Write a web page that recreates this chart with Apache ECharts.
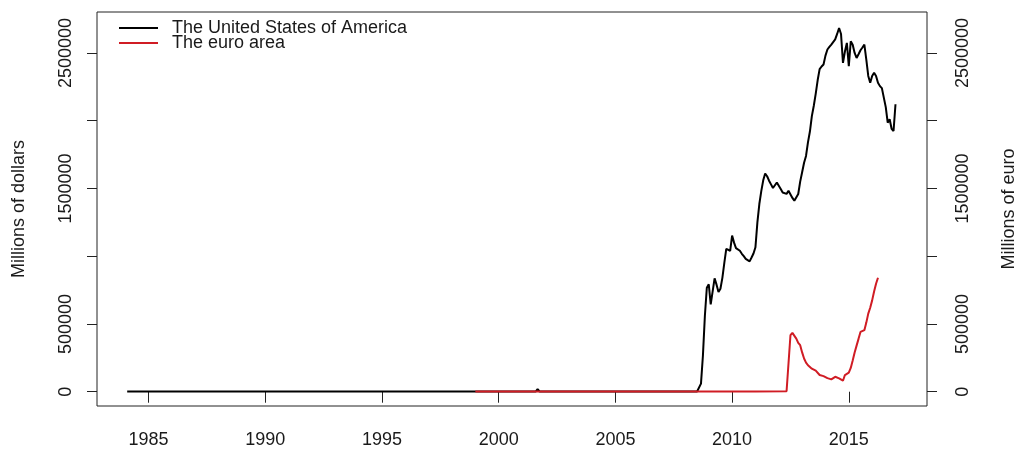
<!DOCTYPE html>
<html>
<head>
<meta charset="utf-8">
<script src="https://cdn.jsdelivr.net/npm/echarts@6/dist/echarts.min.js"></script>
<style>
  html, body { margin: 0; padding: 0; background: #fff; }
  #chart { width: 1018px; height: 450px; }
</style>
</head>
<body>
<div id="chart"></div>
<script>
// Excess reserves, millions of national currency.
// United States: sparse readings while the series is flat, then monthly from Aug 2008.
const usEarlyMonths = ['1984-02', '1986-01', '1988-01', '1990-01', '1992-01', '1994-01', '1996-01',
  '1998-01', '2000-01', '2001-08', '2001-09', '2001-10', '2003-01', '2005-01', '2007-01', '2008-07'];
const usEarlyValues = [900, 1000, 1000, 900, 1100, 1000, 1000, 1200, 1100, 1300, 19000, 1500, 1600, 1700, 1700, 1900];
const usMonthlyStart = '2008-08';
const usMonthly = [
  2000, 60000, 267000, 559000, 767000,
  793000, 645000, 740000, 836000, 790000, 735000, 760000, 840000, 950000, 1054000, 1050000, 1040000,
  1152000, 1100000, 1060000, 1047000, 1040000, 1018000, 1000000, 980000, 968000, 962000, 990000, 1020000,
  1066000, 1250000, 1385000, 1480000, 1560000, 1610000, 1590000, 1557000, 1530000, 1503000, 1510000, 1544000,
  1530000, 1495000, 1470000, 1463000, 1460000, 1483000, 1480000, 1430000, 1410000, 1420000, 1459000, 1550000,
  1620000, 1690000, 1740000, 1840000, 1920000, 2034000, 2110000, 2200000, 2300000, 2380000, 2400000, 2415000,
  2480000, 2525000, 2545000, 2562000, 2549000, 2600000, 2640000, 2684000, 2640000, 2427000, 2510000, 2574000,
  2402000, 2586000, 2560000, 2500000, 2463000, 2490000, 2520000, 2540000, 2562000, 2450000, 2330000, 2280000,
  2330000, 2353000, 2330000, 2280000, 2255000, 2240000, 2231000, 2100000, 1985000, 2010000, 1940000, 1924000,
  2121000
];

// Euro area: sparse readings while flat, then monthly from Jun 2012.
const euroEarlyMonths = ['1999-01', '2001-01', '2003-01', '2005-01', '2007-01', '2009-01', '2011-01', '2012-05'];
const euroEarlyValues = [1000, 1000, 1000, 1000, 1000, 1500, 2000, 3000];
const euroMonthlyStart = '2012-06';
const euroMonthly = [
  3000, 417000, 434000, 420000, 392000, 360000, 343000,
  290000, 245000, 215000, 195000, 184000, 170000, 160000, 155000, 147000, 123000, 135000, 115000,
  106000, 100000, 93000, 91000, 100000, 110000, 105000, 98000, 88000, 81000, 123000, 122000,
  140000, 175000, 230000, 290000, 340000, 390000, 441000, 450000, 454000, 510000, 576000, 620000,
  674000, 740000, 797000, 841000
];

const seriesNames = ['The United States of America', 'The euro area'];
const yearTicks = [1985, 1990, 1995, 2000, 2005, 2010, 2015];
const valueTicks = [0, 500000, 1000000, 1500000, 2000000, 2500000];
const valueLabels = [0, 500000, 1500000, 2500000];

// 'YYYY-MM' -> decimal year (Jan = whole year)
function toYear(s) {
  const [y, m] = s.split('-').map(Number);
  return y + (m - 1) / 12;
}
function buildPoints(months, values, start, monthly) {
  const pts = months.map((m, i) => [toYear(m), values[i]]);
  const t0 = toYear(start);
  monthly.forEach((v, i) => pts.push([t0 + i / 12, v]));
  return pts;
}
const usPoints = buildPoints(usEarlyMonths, usEarlyValues, usMonthlyStart, usMonthly);
const euroPoints = buildPoints(euroEarlyMonths, euroEarlyValues, euroMonthlyStart, euroMonthly);

const FONT = 'Liberation Sans';
const INK = '#1a1a1a';
const RED = '#d01c24';

const chart = echarts.init(document.getElementById('chart'), null, { renderer: 'canvas' });
chart.setOption({
  animation: false,
  backgroundColor: '#fff',
  grid: {
    left: 97, right: 91, top: 12, bottom: 44,
    outerBoundsMode: 'none', containLabel: false,
    show: true, borderColor: '#222', borderWidth: 1, backgroundColor: 'transparent'
  },
  legend: {
    orient: 'vertical',
    left: 114, top: 14,
    itemWidth: 39, itemHeight: 2, itemGap: -3,
    icon: 'rect',
    data: seriesNames,
    textStyle: { fontFamily: FONT, fontSize: 18, color: INK, lineHeight: 16, padding: [0, 0, 0, 9] }
  },
  xAxis: {
    type: 'value',
    min: 1982.79, max: 2018.35,
    axisLine: { show: false },
    splitLine: { show: false },
    axisTick: { show: true, length: 11, lineStyle: { color: '#222' }, customValues: yearTicks },
    axisLabel: {
      fontFamily: FONT, fontSize: 18, color: INK, margin: 25,
      customValues: yearTicks, formatter: v => String(Math.round(v))
    }
  },
  yAxis: [
    {
      type: 'value',
      position: 'left',
      min: -105500, max: 2802000,
      name: 'Millions of dollars',
      nameLocation: 'middle', nameRotate: 90, nameGap: 69,
      nameTextStyle: { fontFamily: FONT, fontSize: 18, color: INK },
      axisLine: { show: false },
      splitLine: { show: false },
      axisTick: { show: true, length: 10, lineStyle: { color: '#222' }, customValues: valueTicks },
      axisLabel: {
        fontFamily: FONT, fontSize: 18, color: INK, rotate: 90, margin: 22,
        customValues: valueLabels, formatter: v => String(v)
      }
    },
    {
      type: 'value',
      position: 'right',
      min: -105500, max: 2802000,
      name: 'Millions of euro',
      nameLocation: 'middle', nameRotate: 90, nameGap: 73,
      nameTextStyle: { fontFamily: FONT, fontSize: 18, color: INK },
      axisLine: { show: false },
      splitLine: { show: false },
      axisTick: { show: true, length: 10, lineStyle: { color: '#222' }, customValues: valueTicks },
      axisLabel: {
        fontFamily: FONT, fontSize: 18, color: INK, rotate: 90, margin: 27,
        customValues: valueLabels, formatter: v => String(v)
      }
    }
  ],
  series: [
    {
      name: seriesNames[0], type: 'line', yAxisIndex: 0,
      data: usPoints, showSymbol: false, symbol: 'none',
      lineStyle: { color: '#000', width: 2 }, itemStyle: { color: '#000' }
    },
    {
      name: seriesNames[1], type: 'line', yAxisIndex: 1,
      data: euroPoints, showSymbol: false, symbol: 'none',
      lineStyle: { color: RED, width: 2 }, itemStyle: { color: RED }
    }
  ]
});
</script>
</body>
</html>
